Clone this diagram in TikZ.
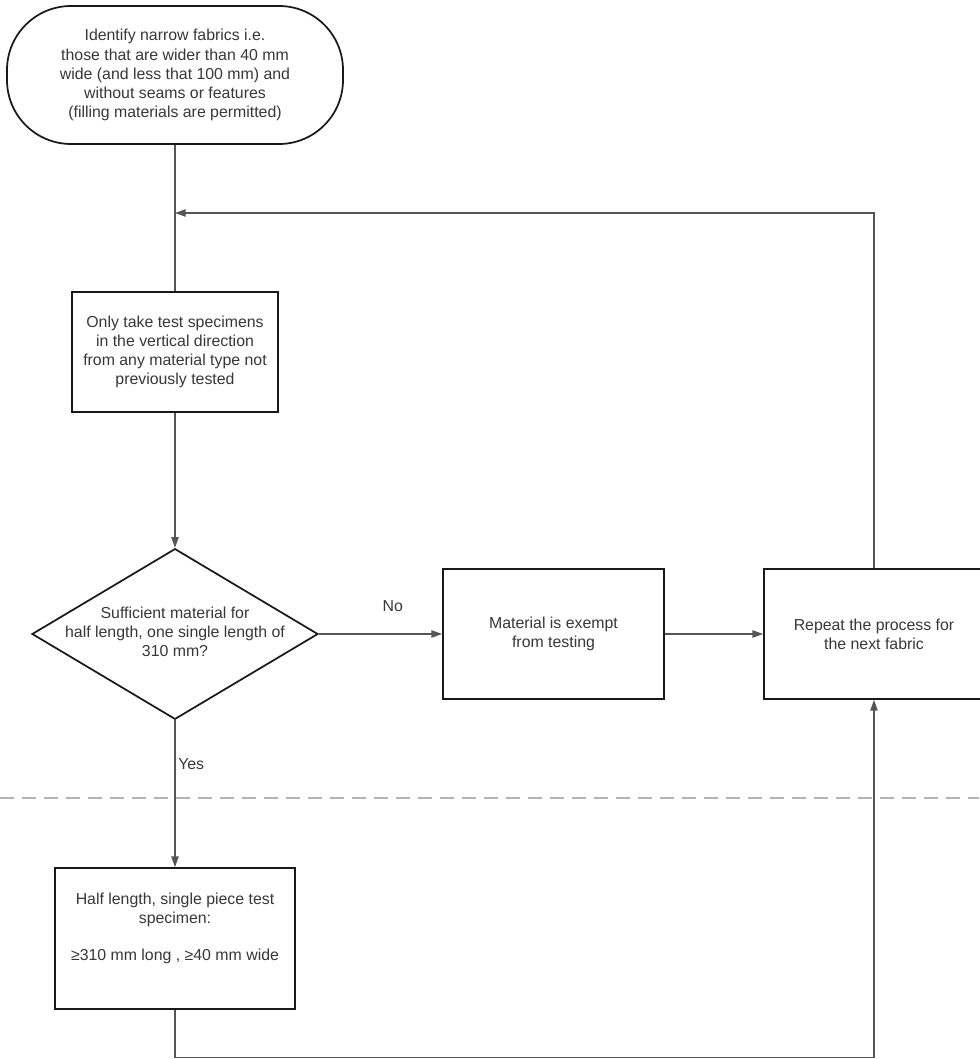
\documentclass[tikz,border=0pt]{standalone}
\usepackage{fontspec}
\setmainfont{Liberation Sans}
\usetikzlibrary{shapes.geometric,arrows.meta}
\definecolor{txtgrey}{RGB}{55,55,55}
\definecolor{linegrey}{RGB}{85,85,85}
\definecolor{dashgrey}{RGB}{180,180,180}

\begin{document}
\begin{tikzpicture}[x=0.75pt,y=-0.75pt,
    every node/.style={font=\fontsize{11.9}{14.3}\selectfont, text=txtgrey},
    startstop/.style={draw=black!90, line width=1.3pt, rounded corners=48pt, minimum width=252pt, minimum height=103.5pt, align=center},
    process/.style={draw=black!90, line width=1.3pt, align=center, inner sep=0pt},
    decision/.style={draw=black!90, line width=1.3pt, diamond, inner sep=0pt, minimum width=214.5pt, minimum height=128pt},
    flow/.style={draw=linegrey, line width=0.9pt, -{Triangle[length=8pt,width=5.5pt]}},
    line/.style={draw=linegrey, line width=0.9pt}]
            \useasboundingbox (0,0) rectangle (979,1059);
            \draw[dashgrey, line width=1.4pt, dash pattern=on 10.5pt off 6pt] (0,798) -- (979,798);
            \node[startstop] (start) at (175,75) {Identify narrow fabrics i.e.\\those that are wider than 40 mm\\wide (and less that 100 mm) and\\without seams or features\\(filling materials are permitted)};
            \node[process, minimum width=154.5pt, minimum height=90pt] (take) at (175,352) {Only take test specimens\\in the vertical direction\\from any material type not\\previously tested};
            \node[decision] (enough) at (175,634) {\raisebox{-3pt}[0pt][0pt]{\makebox[0pt]{\begin{tabular}{@{}c@{}}Sufficient material for\\half length, one single length of\\310 mm?\end{tabular}}}};
            \node[process, minimum width=165.75pt, minimum height=97.5pt] (exempt) at (553.5,634) {Material is exempt\\from testing};
            \node[process, minimum width=165pt, minimum height=97.5pt] (repeat) at (874,634) {Repeat the process for\\the next fabric};
            \node[process, minimum width=180pt, minimum height=105.75pt] (half) at (175,938.5) {Half length, single piece test\\specimen:\\[13.5pt]≥310 mm long ,  ≥40 mm wide\\[3pt]\mbox{}};
            \coordinate (join) at (175,213);
            \draw[line] (start.south) -- (take.north);
            \draw[flow] (repeat.north) |- (join);
            \draw[flow] (take.south) -- (enough.north);
            \draw[flow] (enough) -- node[pos=0.6, yshift=21pt]{No} (exempt);
            \draw[flow] (exempt) -- (repeat);
            \draw[flow] (enough.south) -- node[right, pos=0.3, inner sep=2pt]{Yes} (half.north);
            \draw[flow] (half.south) -- ++(0,48) -| (repeat.south);
        \end{tikzpicture}
\end{document}
